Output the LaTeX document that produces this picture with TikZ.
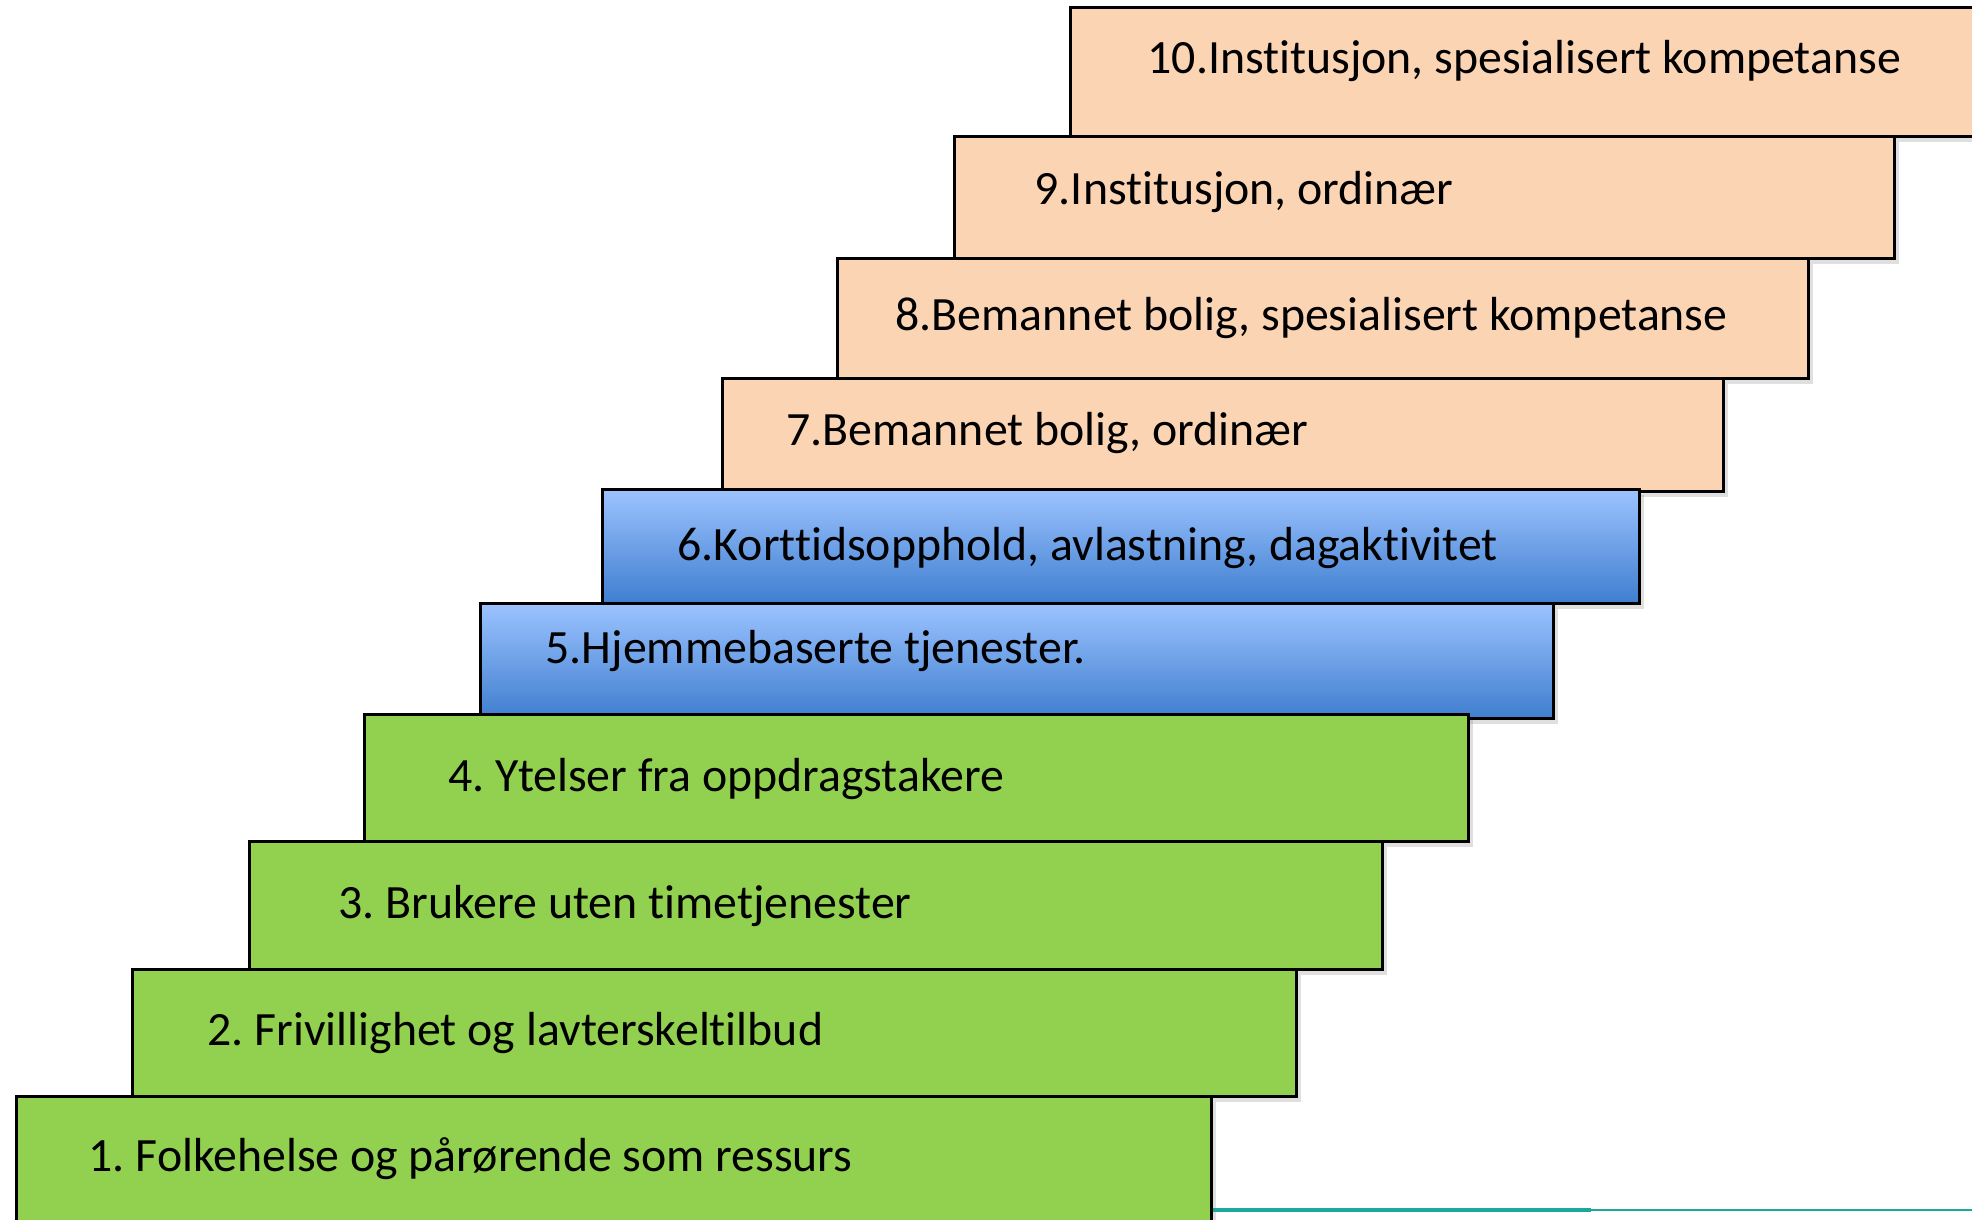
\documentclass[tikz,border=0pt]{standalone}
\usepackage{fontspec}
\setmainfont{Carlito}[Ligatures = NoCommon]
\usetikzlibrary{shadows}
\frenchspacing

\definecolor{stairgreen}{HTML}{92D050}
\definecolor{stairpeach}{HTML}{FBD4B4}
\definecolor{stairbluetop}{HTML}{9CC3FF}
\definecolor{stairbluebot}{HTML}{3F7ECF}
\definecolor{baseteal}{HTML}{1AA99C}

\begin{document}
\begin{tikzpicture}[
    x = 0.1mm, y = -0.1mm,
    stair/.style = {
        draw,
        rectangle,
        anchor = north west,
        inner sep = 0pt,
        line width = 0.8pt,
        drop shadow = {opacity = 0.25, shadow xshift = 0.5mm, shadow yshift = -0.6mm}
    },
    greenstep/.style = {stair, fill = stairgreen},
    bluestep/.style = {stair, top color = stairbluetop, bottom color = stairbluebot},
    peachstep/.style = {stair, fill = stairpeach},
    steplabel/.style = {anchor = west, inner sep = 0pt, font = \fontsize{13.6}{16}\selectfont}
]

\useasboundingbox (0,0) rectangle (1972,1220);
\clip (0,0) rectangle (1972,1220);

% Steps, top one first so the lower ones lie over it
\foreach \i / \x / \y / \w / \h / \kind / \dx / \dy / \txt in {
    10/1069/6/950/129/peachstep/78/11/{10.Institusjon, spesialisert kompetanse},
    9/953/135/940/122/peachstep/81/5/{9.Institusjon, ordinær},
    8/836/257/971/120/peachstep/59/0/{8.Bemannet bolig, spesialisert kompetanse},
    7/721/377/1001/113/peachstep/65/2/{7.Bemannet bolig, ordinær},
    6/601/488/1037/114/bluestep/76/-2/{6.Korttidsopphold, avlastning, dagaktivitet},
    5/479/602/1073/115/bluestep/66/10/{5.Hjemmebaserte tjenester.},
    4/363/713/1104/127/greenstep/85/-1/{4. Ytelser fra oppdragstakere},
    3/248/840/1133/128/greenstep/90/-1/{3. Brukere uten timetjenester},
    2/131/968/1164/127/greenstep/76/0/{2. Frivillighet og lavterskeltilbud},
    1/15/1095/1195/150/greenstep/73/13/{1. Folkehelse og pårørende som ressurs}} {
    \node[\kind, minimum width = \w*0.1mm, minimum height = \h*0.1mm] (box\i) at (\x,\y) {};
    \node[steplabel] (label\i) at ([xshift = \dx*0.1mm, yshift = \dy*0.1mm]box\i.west) {\txt};
}

% Base line
\coordinate (basemid) at (1591,1210);
\coordinate (baseend) at (1972,1210);
\draw[baseteal, line width = 1pt] (box1.east |- basemid) -- (basemid);
\draw[baseteal, line width = 0.7pt] (basemid) -- (baseend);

\end{tikzpicture}
\end{document}
